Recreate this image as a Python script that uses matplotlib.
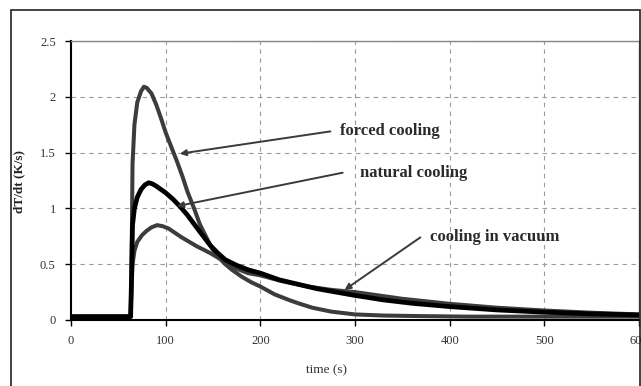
import matplotlib
matplotlib.use("Agg")
import matplotlib.pyplot as plt
from matplotlib.patches import Rectangle

# ── Data ──────────────────────────────────────────────────────────────────────
t_forced = [0, 63, 64, 65, 67, 70, 74, 77, 80, 85, 90, 95, 100, 106, 112, 118, 123,
            130, 136, 143, 149, 156, 163, 170, 180, 190, 200, 215, 230, 240, 255,
            275, 300, 330, 370, 420, 480, 540, 600]
v_forced = [0.03, 0.03, 0.5, 1.4, 1.75, 1.95, 2.05, 2.09, 2.08, 2.03, 1.93, 1.81,
            1.68, 1.55, 1.42, 1.28, 1.15, 1.0, 0.86, 0.74, 0.64, 0.56, 0.5, 0.45,
            0.39, 0.34, 0.30, 0.23, 0.18, 0.15, 0.11, 0.075, 0.05, 0.04, 0.035,
            0.03, 0.03, 0.03, 0.03]

t_natural = [0, 63, 64, 65, 67, 70, 74, 78, 82, 86, 90, 95, 100, 108, 116, 123, 130,
             138, 147, 155, 163, 175, 187, 200, 220, 240, 260, 280, 300, 330, 360,
             400, 450, 500, 550, 600]
v_natural = [0.03, 0.03, 0.4, 0.85, 1.0, 1.1, 1.17, 1.21, 1.23, 1.22, 1.2, 1.17,
             1.14, 1.08, 1.01, 0.94, 0.86, 0.77, 0.67, 0.6, 0.54, 0.49, 0.45, 0.42,
             0.36, 0.32, 0.28, 0.25, 0.22, 0.18, 0.15, 0.12, 0.09, 0.07, 0.055, 0.045]

t_vacuum = [0, 63, 64, 65, 67, 70, 75, 80, 85, 91, 97, 103, 110, 117, 125, 133, 140,
            147, 155, 163, 175, 187, 200, 222, 250, 275, 300, 350, 400, 450, 500,
            550, 600]
v_vacuum = [0.03, 0.03, 0.3, 0.5, 0.62, 0.7, 0.76, 0.8, 0.83, 0.85, 0.84, 0.82,
            0.78, 0.74, 0.7, 0.66, 0.63, 0.6, 0.56, 0.52, 0.46, 0.42, 0.40, 0.35,
            0.30, 0.27, 0.25, 0.19, 0.145, 0.11, 0.085, 0.065, 0.05]

x_ticks = [0, 100, 200, 300, 400, 500, 600]
y_ticks = [0, 0.5, 1, 1.5, 2, 2.5]
y_tick_labels = ["0", "0.5", "1", "1.5", "2", "2.5"]

# annotations: text, text position, arrow tail, arrow head (data coords)
labels = ["forced cooling", "natural cooling", "cooling in vacuum"]
label_xy = [(284, 1.69), (305, 1.32), (379, 0.74)]
tail_xy = [(274, 1.69), (287, 1.32), (369, 0.74)]
head_xy = [(115, 1.49), (112, 1.02), (289, 0.27)]

C_GREY = "#3c3c3c"
C_BLACK = "#000000"
SERIF = ["Liberation Serif", "DejaVu Serif"]

fig = plt.figure(figsize=(6.41, 3.86), dpi=100)
fig.patch.set_facecolor("white")

# outer frame of the chart object (cut at the right and bottom)
fig.patches.append(Rectangle((11 / 641, -0.05), 629 / 641, 1.05 - 10 / 386,
                             transform=fig.transFigure, fill=False,
                             edgecolor="#222222", linewidth=1.2))

ax = fig.add_axes([71 / 641, 1 - 320 / 386, 568 / 641, 279 / 386])

ax.plot(t_vacuum, v_vacuum, color=C_GREY, linewidth=2.9, zorder=3)
ax.plot(t_forced, v_forced, color=C_GREY, linewidth=2.9, zorder=3)
ax.plot(t_natural, v_natural, color=C_BLACK, linewidth=3.4, zorder=4)

ax.set_xlim(0, 600)
ax.set_ylim(0, 2.5)
ax.set_xticks(x_ticks)
ax.set_yticks(y_ticks)
ax.set_yticklabels(y_tick_labels)
ax.grid(True, color="#9a9a9a", linestyle=(0, (4, 4)), linewidth=0.8)
ax.set_axisbelow(True)

for side in ("top", "right"):
    ax.spines[side].set_color("#888888")
    ax.spines[side].set_linewidth(1.0)
for side in ("left", "bottom"):
    ax.spines[side].set_color("#000000")
    ax.spines[side].set_linewidth(1.5)

ax.tick_params(direction="out", length=4, width=1, colors="#000000",
               labelcolor="#333333", labelsize=9, pad=7)
for lab in ax.get_xticklabels() + ax.get_yticklabels():
    lab.set_family(SERIF)

ax.set_xlabel("time (s)", family=SERIF, fontsize=9.5, color="#333333")
ax.xaxis.set_label_coords(0.45, -0.16)
ax.set_ylabel("dT/dt (K/s)", family=SERIF, fontsize=9.5, color="#222222",
              fontweight="bold")
ax.yaxis.set_label_coords(-0.081, 0.495)

for text, txy, a0, a1 in zip(labels, label_xy, tail_xy, head_xy):
    ax.annotate("", xy=a1, xytext=a0,
                arrowprops=dict(arrowstyle="-|>", color="#3a3a3a", lw=1.4,
                                mutation_scale=9, shrinkA=0, shrinkB=0),
                zorder=6)
    ax.text(txy[0], txy[1], text, family=SERIF, fontsize=12, fontweight="bold",
            color="#2a2a2a", ha="left", va="center", zorder=6)

fig.savefig("out.png", dpi=100)
